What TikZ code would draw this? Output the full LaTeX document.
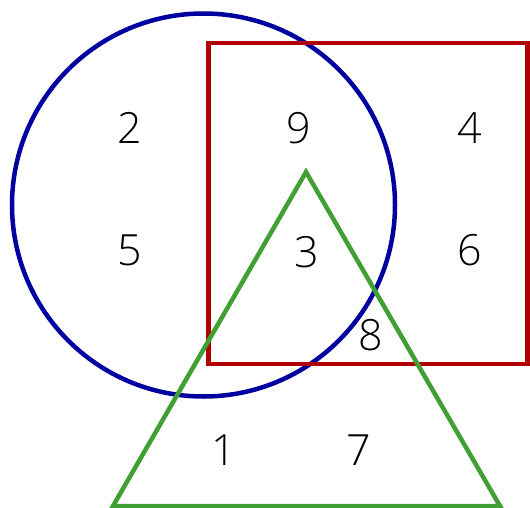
\documentclass[tikz,border=0pt]{standalone}
\usepackage{fontspec}
\setmainfont{Open Sans}[UprightFont=* Light]
\begin{document}
\begin{tikzpicture}[x=1pt,y=-1pt,
  num/.style={font=\fontsize{43}{43}\selectfont, text=black, inner sep=0pt},
  shapeline/.style={line width=4.5pt}]
\useasboundingbox (0,0) rectangle (530,508);
\definecolor{cblue}{RGB}{0,0,160}
\definecolor{cred}{RGB}{176,0,0}
\definecolor{cgreen}{RGB}{64,160,52}
\node[draw=cblue, shapeline, circle, minimum size=383pt, inner sep=0pt] (circ) at (203.5,205) {};
\node[draw=cred, shapeline, rectangle, minimum width=319pt, minimum height=321pt, inner sep=0pt] (sq) at (368,203.5) {};
\coordinate (ta) at (306,172);
\coordinate (tl) at (113,506);
\coordinate (tr) at (500,506);
\draw[cgreen, shapeline, line join=miter] (ta) -- (tl) -- (tr) -- cycle;
\node[num] (n2) at (130,128) {2};
\node[num] (n9) at (299,128) {9};
\node[num] (n4) at (470,128) {4};
\node[num] (n5) at (130,250) {5};
\node[num] (n3) at (307,252) {3};
\node[num] (n6) at (470,250) {6};
\node[num] (n8) at (371,335) {8};
\node[num] (n1) at (224,450) {1};
\node[num] (n7) at (359,450) {7};
\end{tikzpicture}
\end{document}
